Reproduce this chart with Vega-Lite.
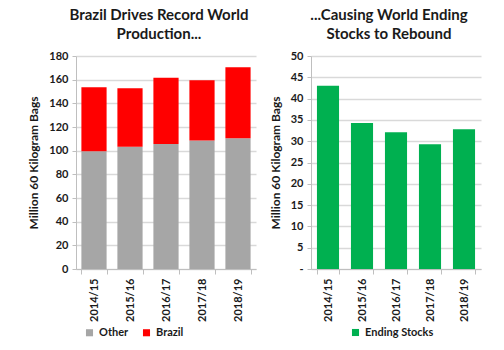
{
  "$schema": "https://vega.github.io/schema/vega-lite/v6.json",
  "background": "white",
  "padding": {"left": 27, "top": 8, "right": 5, "bottom": 5},
  "config": {
    "font": "Lato",
    "view": {"stroke": null},
    "axis": {
      "labelFont": "Lato", "labelFontWeight": "bold", "labelFontSize": 11, "labelColor": "#1a1a1a",
      "titleFont": "Lato", "titleFontWeight": "bold", "titleFontSize": 12, "titleColor": "#1a1a1a",
      "domainColor": "#bfbfbf", "tickColor": "#bfbfbf", "gridColor": "#d9d9d9", "gridWidth": 1.5
    },
    "title": {"font": "Lato", "fontSize": 15, "fontWeight": "bold", "color": "#1a1a1a", "lineHeight": 19, "offset": 8},
    "legend": {"labelFont": "Lato", "labelFontWeight": "bold", "labelFontSize": 11, "labelColor": "#1a1a1a", "symbolType": "square", "symbolSize": 50, "symbolStrokeWidth": 0, "columnPadding": 12}
  },
  "datasets": {
    "prod": [
      {"year": "2014/15", "series": "Other", "value": 99.5, "ord": 1},
      {"year": "2015/16", "series": "Other", "value": 103.4, "ord": 1},
      {"year": "2016/17", "series": "Other", "value": 105.7, "ord": 1},
      {"year": "2017/18", "series": "Other", "value": 108.5, "ord": 1},
      {"year": "2018/19", "series": "Other", "value": 110.5, "ord": 1},
      {"year": "2014/15", "series": "Brazil", "value": 54.1, "ord": 2},
      {"year": "2015/16", "series": "Brazil", "value": 49.3, "ord": 2},
      {"year": "2016/17", "series": "Brazil", "value": 56.0, "ord": 2},
      {"year": "2017/18", "series": "Brazil", "value": 51.0, "ord": 2},
      {"year": "2018/19", "series": "Brazil", "value": 60.0, "ord": 2}
    ],
    "stocks": [
      {"year": "2014/15", "series": "Ending Stocks", "value": 43.0},
      {"year": "2015/16", "series": "Ending Stocks", "value": 34.3},
      {"year": "2016/17", "series": "Ending Stocks", "value": 32.1},
      {"year": "2017/18", "series": "Ending Stocks", "value": 29.3},
      {"year": "2018/19", "series": "Ending Stocks", "value": 32.8}
    ]
  },
  "spacing": 13,
  "resolve": {"scale": {"color": "independent"}, "legend": {"color": "independent"}},
  "hconcat": [
    {
      "width": 180,
      "height": 213,
      "title": {"text": ["Brazil Drives Record World", "Production..."], "frame": "group", "dx": -7},
      "data": {"name": "prod"},
      "mark": {"type": "bar"},
      "encoding": {
        "x": {"field": "year", "type": "nominal", "sort": null,
          "scale": {"paddingInner": 0.3, "paddingOuter": 0.15},
          "axis": {"title": null, "labelAngle": -90, "tickBand": "extent", "grid": false, "tickSize": 5, "labelPadding": 4}},
        "y": {"field": "value", "type": "quantitative", "stack": "zero",
          "scale": {"domain": [0, 180]},
          "axis": {"values": [0, 20, 40, 60, 80, 100, 120, 140, 160, 180], "title": "Million 60 Kilogram Bags", "tickSize": 4, "labelPadding": 4, "titlePadding": 8}},
        "color": {"field": "series", "type": "nominal",
          "scale": {"domain": ["Other", "Brazil"], "range": ["#a6a6a6", "#ff0000"]},
          "legend": {"orient": "none", "legendX": 8, "legendY": 271, "direction": "horizontal", "title": null}},
        "order": {"field": "ord", "type": "quantitative"}
      }
    },
    {
      "width": 170,
      "height": 213,
      "title": {"text": ["...Causing World Ending", "Stocks to Rebound"], "frame": "group", "dx": -7},
      "data": {"name": "stocks"},
      "mark": {"type": "bar"},
      "encoding": {
        "x": {"field": "year", "type": "nominal", "sort": null,
          "scale": {"paddingInner": 0.35, "paddingOuter": 0.175},
          "axis": {"title": null, "labelAngle": -90, "tickBand": "extent", "grid": false, "tickSize": 5, "labelPadding": 4}},
        "y": {"field": "value", "type": "quantitative",
          "scale": {"domain": [0, 50]},
          "axis": {"values": [0, 5, 10, 15, 20, 25, 30, 35, 40, 45, 50], "labelExpr": "datum.value == 0 ? '-' : datum.label", "title": "Million 60 Kilogram Bags", "tickSize": 4, "labelPadding": 4, "titlePadding": 8}},
        "color": {"field": "series", "type": "nominal",
          "scale": {"domain": ["Ending Stocks"], "range": ["#00b050"]},
          "legend": {"orient": "none", "legendX": 39, "legendY": 271, "direction": "horizontal", "title": null}}
      }
    }
  ]
}
